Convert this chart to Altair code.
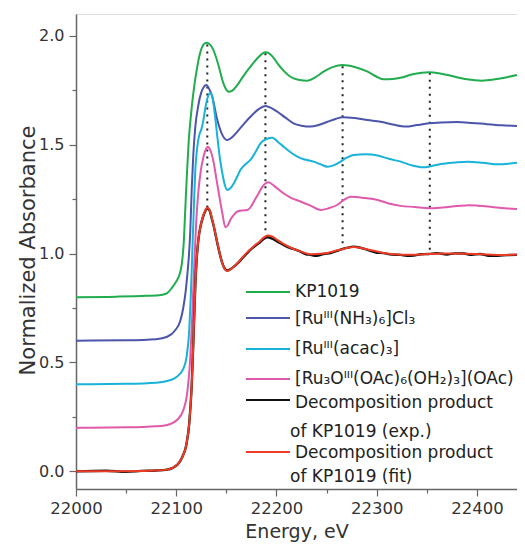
import altair as alt
import pandas as pd

# ---------------- data ----------------
kp_E = [22000, 22040, 22070, 22085, 22091, 22096, 22100, 22103, 22105.5, 22107.5, 22109, 22110.5,
        22112.5, 22115, 22118, 22121, 22123.5, 22126, 22128.5, 22131, 22134, 22137, 22139.5, 22143,
        22146, 22149, 22152.5, 22156, 22161, 22167, 22174, 22181, 22186, 22189, 22193, 22197, 22201,
        22207, 22214, 22222, 22231, 22239, 22247, 22256, 22266, 22278, 22291, 22300, 22307, 22316,
        22325, 22335, 22345, 22352, 22362, 22375, 22390, 22405, 22418, 22430, 22440]
kp_A = [0.800, 0.802, 0.806, 0.810, 0.818, 0.845, 0.872, 0.900, 0.950, 1.050, 1.200, 1.350,
        1.520, 1.650, 1.770, 1.858, 1.915, 1.950, 1.965, 1.968, 1.958, 1.935, 1.905, 1.850,
        1.797, 1.760, 1.743, 1.748, 1.774, 1.815, 1.858, 1.897, 1.918, 1.924, 1.918, 1.900, 1.873,
        1.840, 1.812, 1.798, 1.794, 1.810, 1.835, 1.856, 1.866, 1.857, 1.835, 1.812, 1.800, 1.801,
        1.808, 1.822, 1.830, 1.832, 1.828, 1.815, 1.800, 1.794, 1.800, 1.810, 1.820]

nh3_E = [22000, 22050, 22080, 22091, 22099, 22104, 22107, 22109.5, 22111, 22112.5, 22114, 22115.5,
         22117, 22119, 22122, 22125, 22127.5, 22130, 22133, 22136, 22141, 22146, 22151, 22156,
         22161, 22168, 22174, 22182, 22189, 22195, 22201, 22209, 22217, 22225, 22234, 22242, 22251,
         22259, 22266, 22278, 22291, 22304, 22316, 22329, 22340, 22352, 22365, 22380, 22395, 22410,
         22425, 22440]
nh3_A = [0.600, 0.602, 0.607, 0.618, 0.648, 0.690, 0.750, 0.830, 0.900, 0.980, 1.100, 1.300,
         1.450, 1.580, 1.680, 1.740, 1.765, 1.774, 1.755, 1.720, 1.613, 1.545, 1.521, 1.535,
         1.560, 1.598, 1.628, 1.662, 1.678, 1.668, 1.651, 1.624, 1.598, 1.587, 1.583, 1.590, 1.605,
         1.618, 1.626, 1.622, 1.613, 1.605, 1.593, 1.583, 1.590, 1.598, 1.602, 1.604, 1.600, 1.594,
         1.589, 1.586]

acac_E = [22000, 22050, 22080, 22091, 22101, 22107, 22110.5, 22113, 22114.5, 22116, 22117.5, 22119,
          22121, 22123, 22125, 22127, 22129.5, 22132, 22134, 22136, 22138.5, 22141, 22143.5, 22146,
          22148.5, 22151, 22154, 22157.5, 22161, 22164, 22169, 22174, 22179, 22184, 22190, 22196,
          22201, 22207, 22215, 22224, 22237, 22244, 22251, 22257, 22264, 22270, 22277, 22289, 22301,
          22312, 22324, 22335, 22346, 22355, 22364, 22378, 22391, 22406, 22421, 22432, 22440]
acac_A = [0.400, 0.402, 0.407, 0.415, 0.436, 0.470, 0.530, 0.650, 0.800, 1.000, 1.200, 1.380,
          1.490, 1.545, 1.570, 1.610, 1.680, 1.725, 1.737, 1.720, 1.640, 1.537, 1.440, 1.369,
          1.315, 1.292, 1.300, 1.323, 1.355, 1.384, 1.410, 1.430, 1.465, 1.506, 1.526, 1.532,
          1.515, 1.491, 1.462, 1.438, 1.422, 1.410, 1.399, 1.405, 1.422, 1.440, 1.453, 1.456, 1.450,
          1.435, 1.422, 1.405, 1.396, 1.402, 1.411, 1.418, 1.422, 1.417, 1.410, 1.413, 1.417]

ru3o_E = [22000, 22050, 22080, 22091, 22101, 22107, 22111, 22114, 22116, 22118, 22120, 22122,
          22124.5, 22127, 22129.5, 22131.5, 22134, 22137.5, 22140, 22142.5, 22146, 22149, 22151.5,
          22154, 22157.5, 22161, 22166, 22171, 22174.5, 22177.5, 22182, 22186, 22192, 22198, 22207,
          22215, 22224, 22234, 22244, 22252, 22260.5, 22267, 22274, 22288, 22301, 22312, 22324,
          22338, 22352, 22366, 22380, 22392, 22401, 22415, 22428, 22440]
ru3o_A = [0.200, 0.202, 0.207, 0.213, 0.237, 0.280, 0.360, 0.520, 0.720, 0.950, 1.150, 1.280,
          1.380, 1.440, 1.478, 1.491, 1.475, 1.415, 1.345, 1.277, 1.185, 1.121, 1.130,
          1.155, 1.178, 1.193, 1.198, 1.200, 1.215, 1.239, 1.275, 1.307, 1.327, 1.310, 1.277,
          1.255, 1.239, 1.220, 1.200, 1.208, 1.223, 1.245, 1.261, 1.255, 1.246, 1.230, 1.219,
          1.214, 1.208, 1.212, 1.218, 1.222, 1.220, 1.214, 1.208, 1.205]

exp_E = [22000, 22030, 22050, 22065, 22080, 22091, 22101, 22106, 22110, 22113, 22115.5, 22117.5,
         22119, 22120.5, 22122, 22124, 22126.5, 22129, 22131, 22133.5, 22135.5, 22137.5, 22140,
         22142.5, 22146, 22148.5, 22151, 22154, 22157.5, 22162, 22166, 22170, 22174, 22178,
         22182.5, 22187, 22191, 22196, 22201, 22207, 22214, 22219, 22224, 22229, 22234, 22240,
         22247, 22254, 22262, 22270, 22277, 22285, 22292, 22300, 22307, 22315, 22324, 22330,
         22337, 22344, 22352, 22360, 22370, 22378, 22387, 22395, 22403, 22412, 22421, 22430, 22440]
exp_A = [0.000, 0.003, -0.002, 0.002, 0.004, 0.008, 0.030, 0.065, 0.120, 0.220, 0.400, 0.650,
         0.850, 0.980, 1.060, 1.120, 1.165, 1.195, 1.208, 1.195, 1.160, 1.124, 1.070,
         1.017, 0.956, 0.930, 0.922, 0.928, 0.940, 0.958, 0.979, 0.998, 1.017, 1.032,
         1.048, 1.066, 1.075, 1.068, 1.055, 1.040, 1.025, 1.018, 1.009, 0.998, 0.994, 0.990,
         0.998, 1.002, 1.015, 1.026, 1.032, 1.025, 1.015, 1.004, 1.002, 0.995, 0.994, 0.990,
         0.991, 0.997, 0.998, 1.002, 0.996, 1.001, 1.000, 0.994, 0.998, 0.990, 0.990, 0.993, 0.994]

fit_E = [22000, 22050, 22080, 22091, 22101, 22106, 22110, 22113, 22115.5, 22117.5, 22119, 22120.5,
         22122, 22124, 22126.5, 22129, 22131, 22133.5, 22135.5, 22137.5, 22140, 22142.5, 22146,
         22148.5, 22151, 22154, 22157.5, 22162, 22166, 22170, 22174, 22178, 22182.5, 22187, 22191,
         22196, 22201, 22207, 22214, 22224, 22234, 22247, 22262, 22277, 22292, 22307, 22324, 22340,
         22352, 22370, 22390, 22410, 22425, 22440]
fit_A = [0.000, 0.001, 0.004, 0.008, 0.030, 0.065, 0.120, 0.220, 0.400, 0.650, 0.850, 0.980,
         1.060, 1.120, 1.168, 1.198, 1.212, 1.198, 1.163, 1.126, 1.072, 1.018, 0.955,
         0.928, 0.920, 0.926, 0.940, 0.960, 0.982, 1.002, 1.020, 1.036, 1.052, 1.072, 1.083,
         1.078, 1.062, 1.045, 1.028, 1.010, 0.997, 1.000, 1.016, 1.030, 1.018, 1.003, 0.995, 0.995,
         0.998, 1.000, 0.999, 0.996, 0.993, 0.996]

series_names = ["KP1019", "NH3", "acac", "Ru3O", "exp", "fit"]
series_E = [kp_E, nh3_E, acac_E, ru3o_E, exp_E, fit_E]
series_A = [kp_A, nh3_A, acac_A, ru3o_A, exp_A, fit_A]

legend_labels = ["KP1019",
                 "[Ruᴵᴵᴵ(NH₃)₆]Cl₃",
                 "[Ruᴵᴵᴵ(acac)₃]",
                 "[Ru₃Oᴵᴵᴵ(OAc)₆(OH₂)₃](OAc)",
                 "Decomposition product",
                 "of KP1019 (exp.)",
                 "Decomposition product",
                 "of KP1019 (fit)"]

# dotted guide lines: energy, top and bottom absorbance
dot_E = [22131, 22189, 22266, 22353]
dot_top = [1.96, 1.92, 1.86, 1.83]
dot_bottom = [1.21, 1.09, 1.04, 1.00]

x_ticks = list(range(22000, 22441, 50))
y_ticks = [0.0, 0.25, 0.5, 0.75, 1.0, 1.25, 1.5, 1.75, 2.0]

# ---------------- styles / layout ----------------
colors = ["#20ad4e", "#4b55aa", "#17b3d8", "#e05aab", "#111111", "#ee3b25"]
widths = [2, 2, 2, 2, 2.4, 2]
FONT = "DejaVu Sans"
W, H = 441, 475

rows = []
for name, Es, As in zip(series_names, series_E, series_A):
    for e, a in zip(Es, As):
        rows.append({"series": name, "E": e, "A": a})
df = pd.DataFrame(rows)

xscale = alt.Scale(domain=[22000, 22440], nice=False, zero=False)
yscale = alt.Scale(domain=[-0.081, 2.1], nice=False, zero=False)

x_axis = alt.Axis(
    title="Energy, eV", values=x_ticks, grid=False, labelFlush=False, labelOverlap=False,
    labelExpr="datum.value % 100 == 0 ? format(datum.value, 'd') : ''",
    tickSize={"condition": {"test": "datum.value % 100 != 0", "value": 4}, "value": 7},
    labelFont=FONT, labelFontSize=16.5, labelColor="#333333", labelPadding=4,
    titleFont=FONT, titleFontSize=19, titleFontWeight="normal", titleColor="#333333",
    titleBaseline="alphabetic", titleY=48, titleX=W / 2,
    domainColor="#666666", domainWidth=1.5, tickColor="#666666", tickWidth=1.2,
)
y_axis = alt.Axis(
    title="Normalized Absorbance", values=y_ticks, grid=False, labelFlush=False, labelOverlap=False,
    labelExpr="abs(datum.value*2 - round(datum.value*2)) > 0.01 ? '' : format(datum.value, '.1f')",
    tickSize={"condition": {"test": "abs(datum.value*2 - round(datum.value*2)) > 0.01", "value": 4}, "value": 7},
    labelFont=FONT, labelFontSize=16, labelColor="#333333", labelPadding=5,
    titleFont=FONT, titleFontSize=21, titleFontWeight="normal", titleColor="#333333",
    titleBaseline="alphabetic", titleX=-42, titleY=236, titleAngle=-90,
    domainColor="#666666", domainWidth=1.5, tickColor="#666666", tickWidth=1.2,
)

layers = []
for name, c, w in zip(series_names, colors, widths):
    layers.append(
        alt.Chart(df).transform_filter(alt.datum.series == name)
        .mark_line(color=c, strokeWidth=w, interpolate="monotone")
        .encode(x=alt.X("E:Q", scale=xscale, axis=x_axis),
                y=alt.Y("A:Q", scale=yscale, axis=y_axis))
    )

dots_df = pd.DataFrame({"E": dot_E, "top": dot_top, "bottom": dot_bottom})
dots = alt.Chart(dots_df).mark_rule(color="#222222", strokeWidth=2, strokeDash=[2, 5]).encode(
    x=alt.X("E:Q", scale=xscale), y=alt.Y("top:Q", scale=yscale), y2="bottom:Q")
layers.insert(0, dots)

# manual legend (pixel positions relative to plot origin)
text_x = [219, 219, 219, 219, 219, 214, 219, 214]
text_y = [278, 305, 335, 365, 389, 418, 439, 463]
line_y = [278, 304, 335, 365, 386, 438]
dummy = pd.DataFrame({"k": [0]})
for lab, tx, ty in zip(legend_labels, text_x, text_y):
    layers.append(alt.Chart(dummy).mark_text(text=lab, align="left", baseline="middle",
                                             font=FONT, fontSize=17, color="#222222")
                  .encode(x=alt.value(tx), y=alt.value(ty)))
for c, ly in zip(colors, line_y):
    layers.append(alt.Chart(dummy).mark_rule(color=c, strokeWidth=2)
                  .encode(x=alt.value(170), x2=alt.value(214), y=alt.value(ly)))

chart = alt.layer(*layers).properties(
    width=W, height=H,
    autosize=alt.AutoSizeParams(type="none"),
    padding={"left": 68, "top": 6, "right": 0, "bottom": 53},
).configure_view(stroke=None).configure(background="white")

chart.save("out.html", embed_options={"renderer": "svg", "actions": False})
